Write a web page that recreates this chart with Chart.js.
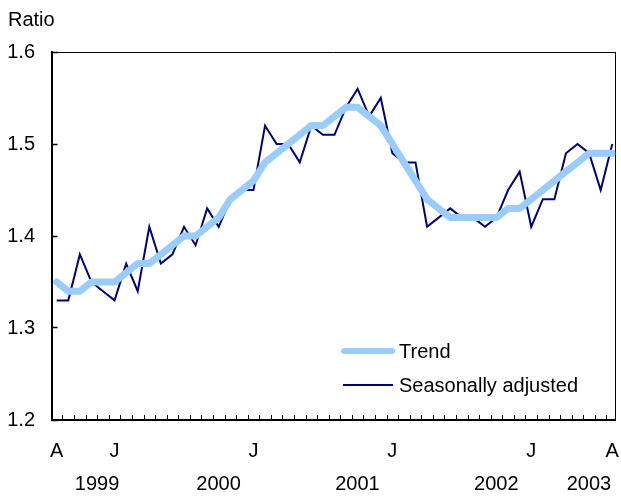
<!DOCTYPE html>
<html>
<head>
<meta charset="utf-8">
<script src="https://cdn.jsdelivr.net/npm/chart.js@4.4.1/dist/chart.umd.min.js"></script>
<style>
  html, body { margin: 0; padding: 0; background: #fff; }
  #wrap { width: 621px; height: 498px; }
</style>
</head>
<body>
<div id="wrap"><canvas id="ratioChart"></canvas></div>
<script>
// Monthly data, April 1999 to April 2003 (49 months)
const trend = [
    1.35, 1.34, 1.34, 1.35, 1.35, 1.35, 1.36, 1.37, 1.37, 1.38, 1.39, 1.40,
    1.40, 1.41, 1.42, 1.44, 1.45, 1.46, 1.48, 1.49, 1.50, 1.51, 1.52, 1.52,
    1.53, 1.54, 1.54, 1.53, 1.52, 1.50, 1.48, 1.46, 1.44, 1.43, 1.42, 1.42,
    1.42, 1.42, 1.42, 1.43, 1.43, 1.44, 1.45, 1.46, 1.47, 1.48, 1.49, 1.49,
    1.49
];
const seasonallyAdjusted = [
    1.33, 1.33, 1.38, 1.35, 1.34, 1.33, 1.37, 1.34, 1.41, 1.37, 1.38, 1.41,
    1.39, 1.43, 1.41, 1.44, 1.45, 1.45, 1.52, 1.50, 1.50, 1.48, 1.52, 1.51,
    1.51, 1.54, 1.56, 1.53, 1.55, 1.49, 1.48, 1.48, 1.41, 1.42, 1.43, 1.42,
    1.42, 1.41, 1.42, 1.45, 1.47, 1.41, 1.44, 1.44, 1.49, 1.50, 1.49, 1.45,
    1.50
];

// month letters shown under the axis: [month index, letter]
const monthTicks = [[0, 'A'], [5, 'J'], [17, 'J'], [29, 'J'], [41, 'J'], [48, 'A']];

// year labels with the first and last month index they cover
const years = ['1999', '2000', '2001', '2002', '2003'];
const yearStart = [0, 9, 21, 33, 45];
const yearEnd = [8, 20, 32, 44, 48];

const Y_MIN = 1.2;
const Y_MAX = 1.6;
const X_MIN = -0.45;
const X_MAX = 48.28;

const FONT = '"Liberation Sans", Arial, sans-serif';
const TREND_COLOR = '#99ccff';
const SA_COLOR = '#000080';

function toPoints(values) {
    return values.map((v, i) => ({ x: i, y: v }));
}

// a bare axis that only draws its border line (top and right of the box)
function frameAxis(position, axis, min, max) {
    return {
        type: 'linear',
        position: position,
        axis: axis,
        min: min,
        max: max,
        display: true,
        grid: { display: false, drawTicks: false },
        ticks: { display: false },
        border: { display: true, color: '#000', width: 1 }
    };
}

// minor month ticks, axis letters, years and the legend
const decorations = {
    id: 'decorations',
    afterDraw(chart) {
        const ctx = chart.ctx;
        const x = chart.scales.x;
        const area = chart.chartArea;
        ctx.save();
        ctx.fillStyle = '#000';

        // monthly minor ticks between months, pointing up from the axis
        for (let i = 0; i < trend.length - 1; i++) {
            const px = Math.round(x.getPixelForValue(i + 0.5));
            ctx.fillRect(px, area.bottom - 5, 1, 5);
        }

        ctx.font = '20px ' + FONT;
        ctx.textBaseline = 'middle';

        // axis title
        ctx.textAlign = 'left';
        ctx.fillText('Ratio', 8, 20);

        // month letters
        ctx.textAlign = 'center';
        monthTicks.forEach(([i, letter]) => {
            ctx.fillText(letter, x.getPixelForValue(i), 451);
        });

        // years, centred under their months
        years.forEach((yr, k) => {
            const mid = (yearStart[k] + yearEnd[k]) / 2;
            ctx.fillText(yr, x.getPixelForValue(mid) - 6, 484);
        });

        // legend
        ctx.lineCap = 'round';
        ctx.strokeStyle = TREND_COLOR;
        ctx.lineWidth = 6;
        ctx.beginPath();
        ctx.moveTo(344, 351);
        ctx.lineTo(392, 351);
        ctx.stroke();
        ctx.lineCap = 'butt';
        ctx.strokeStyle = SA_COLOR;
        ctx.lineWidth = 2;
        ctx.beginPath();
        ctx.moveTo(343, 385);
        ctx.lineTo(393, 385);
        ctx.stroke();
        ctx.textAlign = 'left';
        ctx.fillText('Trend', 399, 352);
        ctx.fillText('Seasonally adjusted', 399, 386);
        ctx.restore();
    }
};

const ctx = document.getElementById('ratioChart').getContext('2d');
const ratioChart = new Chart(ctx, {
    type: 'line',
    data: {
        datasets: [{
            label: 'Trend',
            data: toPoints(trend),
            xAxisID: 'x',
            yAxisID: 'y',
            borderColor: TREND_COLOR,
            borderWidth: 7,
            borderCapStyle: 'round',
            borderJoinStyle: 'round',
            pointRadius: 0,
            tension: 0,
            fill: false
        }, {
            label: 'Seasonally adjusted',
            data: toPoints(seasonallyAdjusted),
            xAxisID: 'x',
            yAxisID: 'y',
            borderColor: SA_COLOR,
            borderWidth: 2,
            pointRadius: 0,
            tension: 0,
            fill: false
        }]
    },
    options: {
        responsive: true,
        maintainAspectRatio: false,
        animation: false,
        layout: {
            padding: { left: 7, right: 5.5, top: 52, bottom: 78 }
        },
        plugins: {
            legend: { display: false },
            tooltip: { enabled: false }
        },
        scales: {
            x: {
                type: 'linear',
                min: X_MIN,
                max: X_MAX,
                display: true,
                afterFit: scale => { scale.height = 0; },
                grid: { display: false, drawTicks: false },
                ticks: { display: false },
                border: { display: true, color: '#000', width: 2 }
            },
            y: {
                min: Y_MIN,
                max: Y_MAX,
                afterFit: scale => { scale.width = 44.5; },
                grid: {
                    display: true,
                    drawOnChartArea: false,
                    drawTicks: true,
                    tickLength: -6,
                    tickWidth: 1.5,
                    color: '#000'
                },
                border: { display: true, color: '#000', width: 2 },
                ticks: {
                    stepSize: 0.1,
                    padding: 22.5,
                    color: '#000',
                    font: { family: FONT, size: 20 },
                    callback: v => v.toFixed(1)
                }
            },
            xTop: frameAxis('top', 'x', X_MIN, X_MAX),
            yRight: frameAxis('right', 'y', Y_MIN, Y_MAX)
        }
    },
    plugins: [decorations]
});
</script>
</body>
</html>
